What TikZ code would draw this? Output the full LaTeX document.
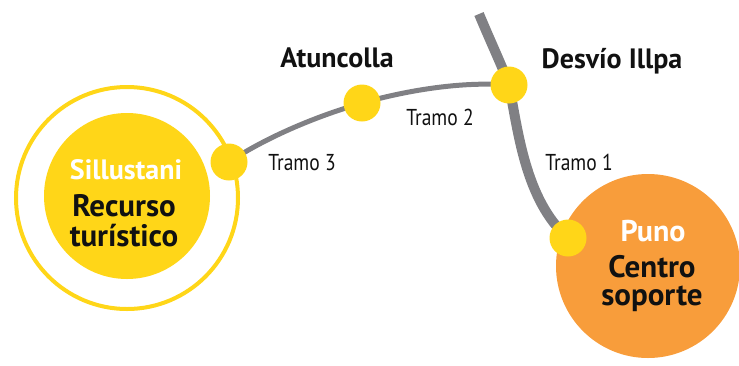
\documentclass[tikz,border=0pt]{standalone}
\usepackage{fontspec}
\setmainfont{PT Sans}
\begin{document}
\begin{tikzpicture}[x=1pt,y=-1pt]
\definecolor{yel}{HTML}{FFD618}
\definecolor{org}{HTML}{F89D3B}
\definecolor{roadgray}{HTML}{808084}
\definecolor{txt}{HTML}{111111}
\tikzset{
  dot/.style={circle,fill=yel,minimum size=37pt,inner sep=0pt},
  road1/.style={draw=roadgray,line width=10pt},
  road2/.style={draw=roadgray,line width=5pt},
  lbl/.style={inner sep=0pt,anchor=base},
  place/.style={lbl,font=\fontsize{28}{30}\selectfont\bfseries,text=txt},
  tramo/.style={lbl,font=\fontsize{23}{25}\selectfont,text=txt},
  white/.style={lbl,font=\fontsize{28}{30}\selectfont\bfseries,text=white},
  big/.style={lbl,font=\fontsize{31}{33}\selectfont\bfseries,text=txt}
}
\useasboundingbox (0,0) rectangle (739,365);
% circles
\node[circle,draw=yel,line width=4pt,minimum size=222pt,inner sep=0pt] (ring) at (127,198) {};
\node[circle,fill=yel,minimum size=166pt,inner sep=0pt] (sill) at (127,196) {};
\node[circle,fill=org,minimum size=184pt,inner sep=0pt] (puno) at (648,266) {};
% dot positions
\coordinate (top) at (479,14);
\coordinate (p1) at (229,162);
\coordinate (p2) at (362,103);
\coordinate (p3) at (509,85);
\coordinate (p4) at (568,238);
% roads
\draw[road1] (top) .. controls (492,45) and (503,68) .. (p3) .. controls (518,130) and (525,200) .. (p4);
\draw[road2] (p1) .. controls (264.5,138.5) and (312.25,117.5) .. (p2) .. controls (412.25,89) and (464.5,81.5) .. (p3);
% dots
\node[dot] (d1) at (p1) {};
\node[dot] (d2) at (p2) {};
\node[dot] (d3) at (p3) {};
\node[dot] (d4) at (p4) {};
% labels
\node[place] (atun) at (337,67) {Atuncolla};
\node[place] (desv) at (612,68) {Desvío Illpa};
\node[tramo] (t1) at (579,170) {\scalebox{0.85}[1]{Tramo 1}};
\node[tramo] (t2) at (440,125) {\scalebox{0.85}[1]{Tramo 2}};
\node[tramo] (t3) at (302,170) {\scalebox{0.85}[1]{Tramo 3}};
\node[white] (sname) at (126,179) {Sillustani};
\node[big] (rec) at (124,216) {Recurso};
\node[big] (tur) at (124,246) {turístico};
\node[white,font=\fontsize{30}{32}\selectfont\bfseries] (pname) at (653,241) {Puno};
\node[big] (cen) at (652,277) {Centro};
\node[big] (sop) at (652,305) {soporte};
\end{tikzpicture}
\end{document}
